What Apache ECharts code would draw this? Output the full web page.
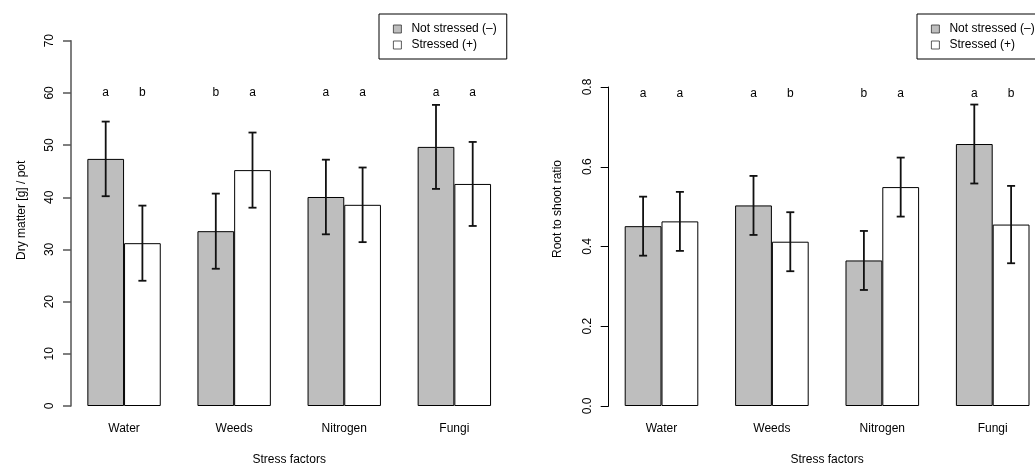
<!DOCTYPE html>
<html>
<head>
<meta charset="utf-8">
<script src="https://cdn.jsdelivr.net/npm/echarts@6/dist/echarts.min.js"></script>
<style>
html,body{margin:0;padding:0;background:#fff;}
#chart{width:1035px;height:466px;}
</style>
</head>
<body>
<div id="chart"></div>
<script>
// ---- data ----
const categories = ['Water', 'Weeds', 'Nitrogen', 'Fungi'];
const seriesNames = ['Not stressed (\u2013)', 'Stressed (+)'];

const dryNot = [47.35, 33.5, 40.05, 49.65];
const dryNotErr = [7.15, 7.2, 7.15, 8.05];
const dryStr = [31.2, 45.2, 38.55, 42.55];
const dryStrErr = [7.2, 7.2, 7.15, 8.05];
const dryLettersNot = ['a', 'b', 'a', 'a'];
const dryLettersStr = ['b', 'a', 'a', 'a'];
const dryLetterLevel = 60;
const dryTicks = [0, 10, 20, 30, 40, 50, 60, 70];

const ratioNot = [0.451, 0.503, 0.365, 0.657];
const ratioNotErr = [0.074, 0.074, 0.074, 0.099];
const ratioStr = [0.463, 0.412, 0.549, 0.455];
const ratioStrErr = [0.074, 0.074, 0.074, 0.097];
const ratioLettersNot = ['a', 'a', 'b', 'a'];
const ratioLettersStr = ['a', 'b', 'a', 'b'];
const ratioLetterLevel = 0.784;
const ratioTicks = ['0.0', '0.2', '0.4', '0.6', '0.8'];

const FONT = '"Liberation Sans", Arial, Helvetica, sans-serif';
const GRAY = '#bebebe';

function errData(vals, errs) {
  return vals.map((v, i) => [i, v - errs[i], v + errs[i]]);
}
function letterData(letters, level) {
  return letters.map((l, i) => [i, level, l]);
}
function errSeries(idx, vals, errs, side) {
  return {
    type: 'custom', xAxisIndex: idx, yAxisIndex: idx, silent: true, z: 5,
    data: errData(vals, errs),
    encode: { x: 0, y: [1, 2] },
    renderItem: function (params, api) {
      const cw = api.size([1, 0])[0];
      const off = side * cw / 6;
      const lo = api.coord([api.value(0), api.value(1)]);
      const hi = api.coord([api.value(0), api.value(2)]);
      const x = lo[0] + off;
      const cap = 4;
      const st = { stroke: '#111', lineWidth: 1.8 };
      return { type: 'group', children: [
        { type: 'line', shape: { x1: x, y1: lo[1], x2: x, y2: hi[1] }, style: st },
        { type: 'line', shape: { x1: x - cap, y1: lo[1], x2: x + cap, y2: lo[1] }, style: st },
        { type: 'line', shape: { x1: x - cap, y1: hi[1], x2: x + cap, y2: hi[1] }, style: st }
      ]};
    }
  };
}
function letterSeries(idx, letters, level, side) {
  return {
    type: 'custom', xAxisIndex: idx, yAxisIndex: idx, silent: true, z: 6,
    data: letterData(letters, level),
    encode: { x: 0, y: 1 },
    renderItem: function (params, api) {
      const cw = api.size([1, 0])[0];
      const p = api.coord([api.value(0), api.value(1)]);
      return { type: 'text', x: p[0] + side * cw / 6, y: p[1],
        style: { text: letters[params.dataIndex], fill: '#000', font: '12px ' + FONT,
          align: 'center', verticalAlign: 'middle' } };
    }
  };
}
function barSeries(idx, name, vals, color) {
  return {
    type: 'bar', name: name, xAxisIndex: idx, yAxisIndex: idx,
    data: vals, barGap: '0%', barCategoryGap: '33.333%',
    itemStyle: { color: color, borderColor: '#000', borderWidth: 1 },
    emphasis: { disabled: true }
  };
}
function legendFor(left) {
  return {
    left: left, top: 14, orient: 'vertical', data: seriesNames,
    icon: 'rect', itemWidth: 8, itemHeight: 8, itemGap: 2,
    padding: [8, 10, 7, 14],
    borderColor: '#000', borderWidth: 1,
    selectedMode: false,
    itemStyle: { borderColor: '#333', borderWidth: 0.8 },
    textStyle: { fontSize: 12, fontFamily: FONT, color: '#000', lineHeight: 14, padding: [0, 0, 0, 5] }
  };
}

const axisText = { fontSize: 12, fontFamily: FONT, color: '#000' };

const option = {
  animation: false,
  backgroundColor: '#fff',
  textStyle: { fontFamily: FONT },
  grid: [
    { left: 69, top: 40.7, width: 440.4, height: 365.3, outerBoundsMode: 'none' },
    { left: 606.3, top: 87, width: 441.6, height: 319, outerBoundsMode: 'none' }
  ],
  legend: [legendFor(379), legendFor(917)],
  xAxis: [0, 1].map(i => ({
    type: 'category', gridIndex: i, data: categories,
    axisLine: { show: false }, axisTick: { show: false },
    axisLabel: Object.assign({ margin: 17 }, axisText),
    name: 'Stress factors', nameLocation: 'middle', nameGap: 48,
    nameTextStyle: axisText
  })),
  yAxis: [
    {
      type: 'value', gridIndex: 0, min: dryTicks[0], max: dryTicks[dryTicks.length - 1], interval: 10,
      offset: -2,
      axisLine: { show: true, lineStyle: { color: '#555', width: 1.5 } },
      axisTick: { show: true, length: 8, lineStyle: { color: '#555', width: 1.5 } },
      splitLine: { show: false },
      axisLabel: Object.assign({ rotate: 90, margin: 15 }, axisText),
      name: 'Dry matter [g] / pot', nameLocation: 'middle', nameRotate: 90, nameGap: 43,
      nameTextStyle: Object.assign({ padding: [0, 0, 0, 26] }, axisText)
    },
    {
      type: 'value', gridIndex: 1, min: 0, max: 0.8, interval: 0.2,
      offset: -2.4,
      axisLine: { show: true, lineStyle: { color: '#000', width: 1 } },
      axisTick: { show: true, length: 8, lineStyle: { color: '#000', width: 1 } },
      splitLine: { show: false },
      axisLabel: Object.assign({ rotate: 90, margin: 15,
        formatter: v => ratioTicks[Math.round(v / 0.2)] }, axisText),
      name: 'Root to shoot ratio', nameLocation: 'middle', nameRotate: 90, nameGap: 45,
      nameTextStyle: Object.assign({ padding: [0, 0, 0, 75] }, axisText)
    }
  ],
  series: [
    barSeries(0, seriesNames[0], dryNot, GRAY),
    barSeries(0, seriesNames[1], dryStr, '#fff'),
    errSeries(0, dryNot, dryNotErr, -1),
    errSeries(0, dryStr, dryStrErr, 1),
    letterSeries(0, dryLettersNot, dryLetterLevel, -1),
    letterSeries(0, dryLettersStr, dryLetterLevel, 1),
    barSeries(1, seriesNames[0], ratioNot, GRAY),
    barSeries(1, seriesNames[1], ratioStr, '#fff'),
    errSeries(1, ratioNot, ratioNotErr, -1),
    errSeries(1, ratioStr, ratioStrErr, 1),
    letterSeries(1, ratioLettersNot, ratioLetterLevel, -1),
    letterSeries(1, ratioLettersStr, ratioLetterLevel, 1)
  ]
};

const chart = echarts.init(document.getElementById('chart'), null, { renderer: 'canvas' });
chart.setOption(option);
</script>
</body>
</html>
